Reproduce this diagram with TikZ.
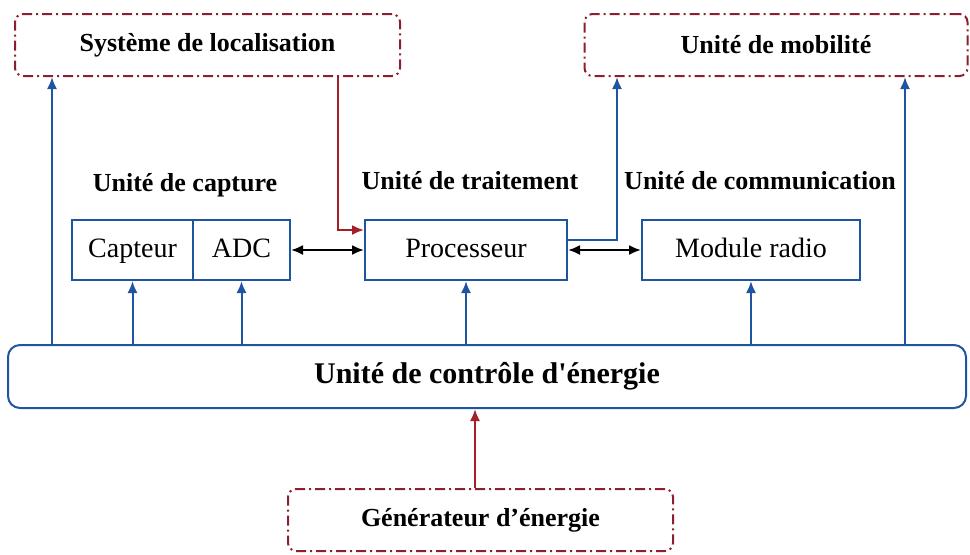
\documentclass[tikz,border=0pt]{standalone}
\usepackage{fontspec}
\setmainfont{Liberation Serif}[Ligatures=TeXOff]
\usepackage{xcolor}
\usetikzlibrary{arrows.meta}
\definecolor{lineblue}{RGB}{31,84,160}
\definecolor{boxred}{RGB}{140,30,45}
\definecolor{arrowred}{RGB}{165,30,40}

\begin{document}
\begin{tikzpicture}[x=0.5pt,y=-0.5pt,
  unitbox/.style={draw=lineblue,line width=1pt,minimum height=30pt,inner sep=0pt,text height=0.7em,text depth=0pt,font=\fontsize{14}{16}\selectfont},
  dotbox/.style={draw=boxred,line width=1pt,dash pattern=on 5pt off 2pt on 1pt off 2pt,rounded corners=4pt,minimum width=192.5pt,minimum height=31pt,font=\bfseries\fontsize{13}{15}\selectfont},
  title/.style={font=\bfseries\fontsize{13}{15}\selectfont},
  power/.style={draw=lineblue,line width=1pt,-{Latex[length=6pt,width=5pt]}},
  link/.style={draw=black,line width=1pt,{Latex[length=6pt,width=5pt]}-{Latex[length=6pt,width=5pt]}},
  feed/.style={draw=arrowred,line width=1pt,-{Latex[length=6pt,width=5pt]}}]
\useasboundingbox (0,0) rectangle (970,554);
\node [dotbox] (loc) at (207.5,45) {Système de localisation};
\node [dotbox,minimum width=191.5pt] (mob) at (776,45) {Unité de mobilité};
\node [title] (tcapt) at (185,185) {Unité de capture};
\node [title] (ttrait) at (470,181) {Unité de traitement};
\node [title] (tcomm) at (760,181) {Unité de communication};
\node [unitbox,minimum width=60.5pt] (capteur) at (132.5,250) {Capteur};
\node [unitbox,minimum width=48.5pt] (adc) at (241.5,250) {ADC};
\node [unitbox,minimum width=101pt] (proc) at (466,250) {Processeur};
\node [unitbox,minimum width=109pt] (radio) at (751,250) {Module radio};
\node [draw=lineblue,line width=1pt,rounded corners=6pt,minimum width=479pt,minimum height=31.5pt,font=\bfseries\fontsize{15}{17}\selectfont] (energy) at (487,376.5) {Unité de contrôle d'énergie};
\node [dotbox] (gen) at (480.5,520) {Générateur d’énergie};
\draw [power] (energy.north -| 52,0) -- (loc.south -| 52,0);
\draw [power] (energy.north -| 905,0) -- (mob.south -| 905,0);
\draw [power] (energy.north -| capteur) -- (capteur);
\draw [power] (energy.north -| adc) -- (adc);
\draw [power] (energy.north -| proc) -- (proc);
\draw [power] (energy.north -| radio) -- (radio);
\draw [power] ([yshift=5pt]proc.east) -| (mob.south -| 617,0);
\draw [feed] (loc.south -| 338,0) |- ([yshift=10pt]proc.west);
\draw [feed] (gen.north -| 475,0) -- (energy.south -| 475,0);
\draw [link] (adc) -- (proc);
\draw [link] (proc) -- (radio);
\end{tikzpicture}
\end{document}
